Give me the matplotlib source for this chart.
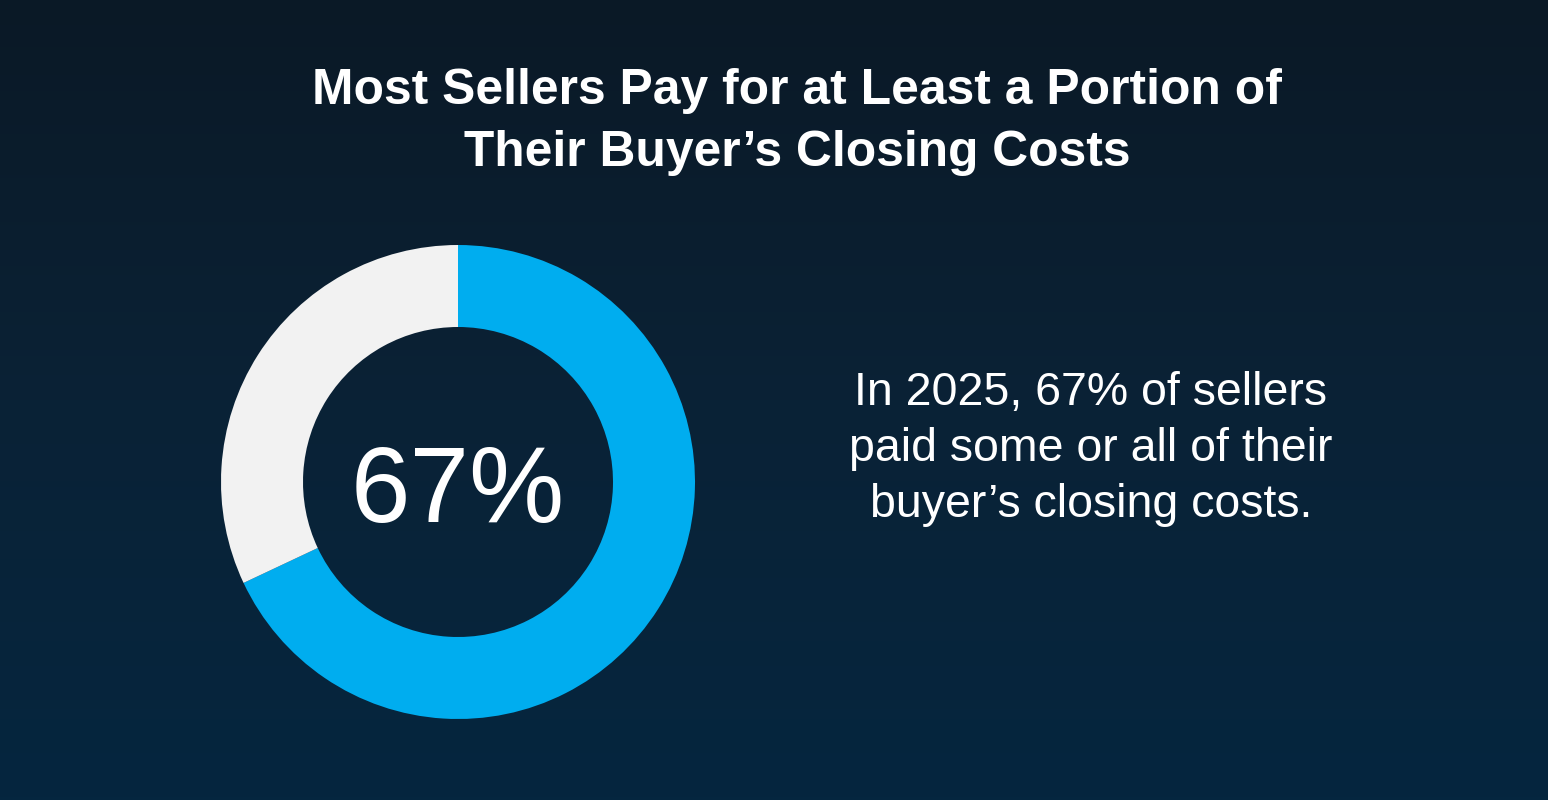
import numpy as np
import matplotlib
matplotlib.use('Agg')
import matplotlib.pyplot as plt
from matplotlib.colors import LinearSegmentedColormap

labels = ['Paid some or all', 'Did not pay']
shares = [68, 32]
colors = ['#00adef', '#f2f2f2']

title_lines = ['Most Sellers Pay for at Least a Portion of',
               'Their Buyer\u2019s Closing Costs']
note_lines = ['In 2025, 67% of sellers',
              'paid some or all of their',
              'buyer\u2019s closing costs.']
center_label = '67%'

W, H = 1548, 800
plt.rcParams['font.family'] = ['Liberation Sans', 'DejaVu Sans']

fig = plt.figure(figsize=(W / 100, H / 100), dpi=100)
ax = fig.add_axes([0, 0, 1, 1])

# background gradient, dark on top, navy at bottom
bg = LinearSegmentedColormap.from_list('bg', ['#0a1926', '#0a2236', '#05263f'])
grad = np.linspace(0, 1, 256).reshape(-1, 1)
ax.imshow(grad, cmap=bg, extent=[0, W, 0, H], origin='upper',
          aspect='auto', zorder=0)

# donut, clockwise from 12 o'clock
ax.pie(shares, colors=colors, startangle=90, counterclock=False,
       center=(458, H - 482), radius=237,
       wedgeprops=dict(width=82, linewidth=0))
ax.set_xlim(0, W)
ax.set_ylim(0, H)
ax.set_aspect('equal')
ax.axis('off')

ax.text(458, H - 522, center_label, color='white', fontsize=77,
        ha='center', va='baseline')

for i, line in enumerate(title_lines):
    ax.text(797, H - (104 + 62 * i), line, color='white', fontsize=35.8,
            fontweight='bold', ha='center', va='baseline')

for i, line in enumerate(note_lines):
    ax.text(1091, H - (405 + 56 * i), line, color='white', fontsize=33.5,
            ha='center', va='baseline')

fig.savefig('out.png', dpi=100, facecolor='#0a1926')
